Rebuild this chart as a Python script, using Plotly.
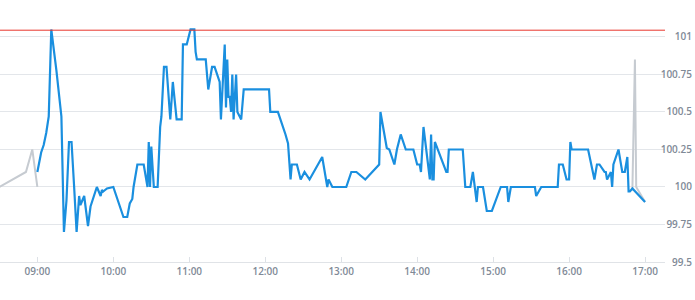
import plotly.graph_objects as go

DAY = "2024-01-02 "

pre_times = ["08:30", "08:51", "08:56", "09:00"]
pre_values = [100.0, 100.1, 100.25, 100.0]

main_times = [
    "09:00", "09:03", "09:05", "09:07", "09:09", "09:11", "09:15", "09:19", "09:21", "09:23",
    "09:25", "09:27", "09:29", "09:31", "09:33", "09:34", "09:36", "09:37", "09:40", "09:42",
    "09:47", "09:50", "09:51", "09:52", "09:55", "10:00", "10:08", "10:11", "10:13", "10:15",
    "10:16", "10:19", "10:24", "10:26", "10:27", "10:28", "10:29", "10:30", "10:32", "10:35",
    "10:37", "10:38", "10:40", "10:42", "10:45", "10:47", "10:50", "10:54", "10:55", "10:58",
    "11:01", "11:04", "11:05", "11:06", "11:13", "11:15", "11:18", "11:20", "11:24", "11:25",
    "11:28", "11:29", "11:30", "11:31", "11:32", "11:33", "11:34", "11:35", "11:37", "11:38",
    "11:41", "11:43", "12:03", "12:04", "12:10", "12:16", "12:18", "12:20", "12:21", "12:25",
    "12:28", "12:31", "12:35", "12:45", "12:49", "12:50", "12:53", "13:04", "13:08", "13:12",
    "13:19", "13:30", "13:31", "13:36", "13:38", "13:42", "13:44", "13:47", "13:51", "13:57",
    "14:00", "14:02", "14:03", "14:05", "14:08", "14:10", "14:11", "14:12", "14:13", "14:14",
    "14:23", "14:24", "14:25", "14:36", "14:38", "14:42", "14:44", "14:47", "14:48", "14:52",
    "14:55", "14:59", "15:06", "15:11", "15:12", "15:14", "15:33", "15:34", "15:38", "15:51",
    "15:52", "15:55", "15:58", "16:00", "16:01", "16:02", "16:15", "16:20", "16:22", "16:24",
    "16:28", "16:29", "16:30", "16:33", "16:34", "16:35", "16:39", "16:42", "16:44", "16:46",
    "16:47", "16:48", "16:50", "17:00",
]
main_values = [
    100.1, 100.23, 100.28, 100.36, 100.47, 101.05, 100.78, 100.47, 99.7, 99.91,
    100.3, 100.3, 100.01, 99.7, 99.94, 99.88, 99.92, 99.94, 99.74, 99.87,
    100.0, 99.94, 99.98, 99.97, 99.99, 100.0, 99.8, 99.8, 99.89, 99.92,
    100.0, 100.15, 100.15, 100.05, 100.0, 100.3, 100.0, 100.27, 100.0, 100.0,
    100.4, 100.47, 100.8, 100.8, 100.45, 100.7, 100.45, 100.45, 100.95, 100.95,
    101.05, 101.05, 100.9, 100.85, 100.85, 100.65, 100.8, 100.8, 100.7, 100.45,
    100.95, 100.53, 100.85, 100.6, 100.6, 100.5, 100.75, 100.45, 100.75, 100.5,
    100.45, 100.65, 100.65, 100.5, 100.5, 100.35, 100.29, 100.05, 100.15, 100.15,
    100.05, 100.1, 100.05, 100.2, 100.0, 100.05, 100.0, 100.0, 100.1, 100.1,
    100.05, 100.15, 100.5, 100.26, 100.25, 100.15, 100.25, 100.35, 100.25, 100.25,
    100.15, 100.15, 100.1, 100.4, 100.2, 100.05, 100.35, 100.05, 100.05, 100.3,
    100.1, 100.1, 100.25, 100.25, 100.0, 100.0, 100.1, 99.9, 100.0, 100.0,
    99.84, 99.84, 100.0, 100.0, 99.9, 100.0, 100.0, 99.94, 100.0, 100.0,
    100.15, 100.15, 100.05, 100.05, 100.3, 100.25, 100.25, 100.05, 100.15, 100.15,
    100.1, 100.1, 100.05, 100.1, 100.0, 100.15, 100.25, 100.1, 100.1, 100.2,
    99.97, 99.97, 99.99, 99.9,
]

post_times = ["16:50", "16:52", "16:53", "16:55", "17:00"]
post_values = [99.99, 100.85, 100.0, 99.97, 99.9]

ref_level = 101.045

y_tick_vals = [99.5, 99.75, 100, 100.25, 100.5, 100.75, 101]
y_tick_text = ["99.5", "99.75", "100", "100.25", "100.5", "100.75", "101"]
x_tick_labels = ["09:00", "10:00", "11:00", "12:00", "13:00", "14:00", "15:00", "16:00", "17:00"]

FONT = dict(family="Open Sans", size=10, color="#7f8a97", weight=600)

# plot geometry (pixels): plot area from y=20 to y=262 in a 300px page
H = 300
TOP_PX, BOT_PX = 20, 262
Y_RANGE = [99.5, 101.113]
px_per_unit = (BOT_PX - TOP_PX) / (Y_RANGE[1] - Y_RANGE[0])
Y2_RANGE = [Y_RANGE[0] - (H - BOT_PX) / px_per_unit, Y_RANGE[1] + TOP_PX / px_per_unit]
TRANSPARENT = "rgba(0,0,0,0)"

def ts(lst):
    return [DAY + t for t in lst]

fig = go.Figure()
# invisible trace hosting the right-hand label axis (drawn first, underneath)
fig.add_trace(go.Scatter(x=[0], y=[ref_level], xaxis="x2", yaxis="y2", mode="lines",
                         line=dict(width=0), showlegend=False, hoverinfo="skip"))
fig.add_trace(go.Scatter(x=ts(pre_times), y=pre_values, mode="lines",
                         line=dict(color="#c6cbd1", width=2), hoverinfo="skip"))
fig.add_trace(go.Scatter(x=ts(post_times), y=post_values, mode="lines",
                         line=dict(color="#c6cbd1", width=2), hoverinfo="skip"))
fig.add_trace(go.Scatter(x=ts(main_times), y=main_values, mode="lines",
                         line=dict(color="#1a8fdf", width=2.2), hoverinfo="skip"))

fig.add_shape(type="line", xref="x domain", x0=0, x1=1, yref="y", y0=ref_level, y1=ref_level,
              line=dict(color="#e8352c", width=1), layer="above")

fig.update_layout(
    width=695, height=H,
    margin=dict(l=0, r=0, t=0, b=0),
    paper_bgcolor="white", plot_bgcolor=TRANSPARENT,
    showlegend=False,
    xaxis=dict(
        domain=[0, 665 / 695],
        anchor="y",
        range=[DAY + "08:30:30", DAY + "17:15:45"],
        tickvals=ts(x_tick_labels), ticktext=x_tick_labels,
        showgrid=False, zeroline=False,
        ticks="inside", ticklen=5, tickcolor="#dde1e6", tickwidth=1,
        showline=True, linecolor="#e0e3e7", linewidth=1,
        tickfont=FONT,
    ),
    yaxis=dict(
        domain=[1 - BOT_PX / H, 1 - TOP_PX / H],
        anchor="x",
        range=Y_RANGE,
        tickvals=y_tick_vals,
        showticklabels=False,
        showgrid=True, gridcolor="#e3e6ea", gridwidth=1,
        zeroline=False, ticks="",
    ),
    xaxis2=dict(
        domain=[0, 1], anchor="y2", range=[0, 1], visible=False,
    ),
    yaxis2=dict(
        domain=[0, 1],
        anchor="x2", side="right",
        range=Y2_RANGE,
        tickvals=y_tick_vals, ticktext=y_tick_text,
        ticklabelposition="inside",
        showgrid=False, zeroline=False, ticks="", showline=False,
        tickfont=FONT,
    ),
)

fig.write_html("out.html")
